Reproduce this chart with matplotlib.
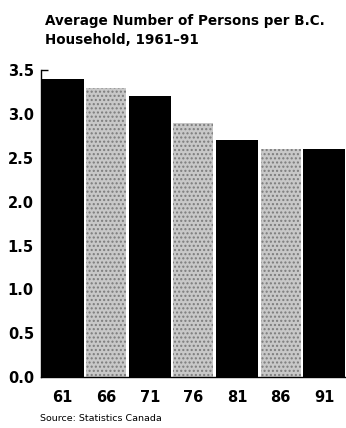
import matplotlib
matplotlib.use("Agg")
from matplotlib import pyplot as plt

# census years and average household size
years = ["61", "66", "71", "76", "81", "86", "91"]
persons = [3.4, 3.3, 3.2, 2.9, 2.7, 2.6, 2.6]
yticks = [0.0, 0.5, 1.0, 1.5, 2.0, 2.5, 3.0]
ytop = 3.5

plt.rcParams['font.family'] = ['DejaVu Sans']

fig = plt.figure(figsize=(3.46, 4.28), dpi=100)
ax = fig.add_axes([0.118, 0.119, 0.882, 0.717])

pos = list(range(len(years)))
for i, v in enumerate(persons):
    if i % 2 == 0:
        ax.bar(pos[i], v, width=0.97, color="black", linewidth=0)
    else:
        ax.bar(pos[i], v, width=0.92, facecolor="#c8c8c8", edgecolor="#7c7c7c",
               hatch="....", linewidth=0)

ax.set_xlim(-0.5, len(years) - 0.5)
ax.set_ylim(0, ytop)
ax.set_xticks(pos)
ax.set_xticklabels(years, fontsize=10.5, fontweight="bold")
ax.tick_params(axis="x", length=0, pad=9)

# only the top value gets a visible tick mark
ax.set_yticks([ytop])
ax.set_yticklabels(["%.1f" % ytop], fontsize=10.5, fontweight="bold")
ax.set_yticks(yticks, minor=True)
ax.set_yticklabels(["%.1f" % t for t in yticks], minor=True,
                   fontsize=10.5, fontweight="bold")
ax.tick_params(axis="y", which="major", direction="in", length=5, width=1, pad=5)
ax.tick_params(axis="y", which="minor", length=0, pad=5)

for s in ["top", "right"]:
    ax.spines[s].set_visible(False)
ax.spines["left"].set_linewidth(1)
ax.spines["bottom"].set_linewidth(1)

fig.text(0.13, 0.89, "Average Number of Persons per B.C.\nHousehold, 1961\u201391",
         fontsize=9.75, fontweight="bold", ha="left", va="bottom", linespacing=1.45)
fig.text(0.116, 0.012, "Source: Statistics Canada", fontsize=6.8, ha="left", va="bottom")

plt.savefig("out.png", dpi=100)
plt.close()
